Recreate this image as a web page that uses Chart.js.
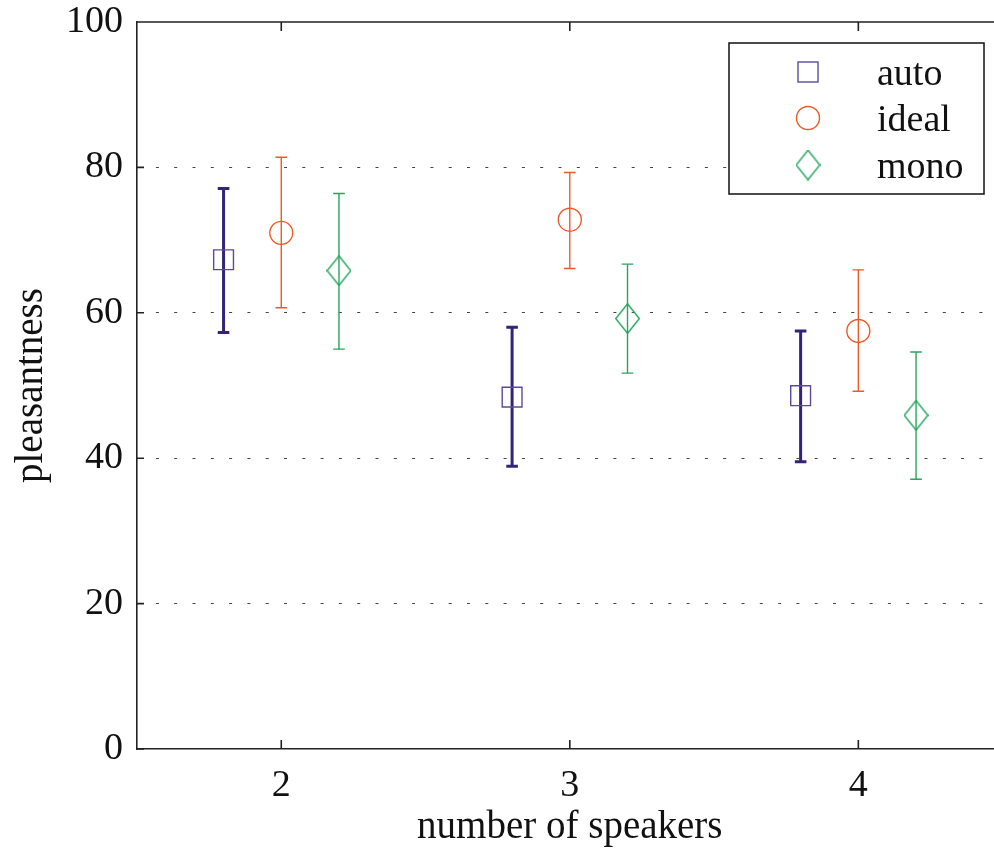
<!DOCTYPE html>
<html>
<head>
<meta charset="utf-8">
<script src="https://cdn.jsdelivr.net/npm/chart.js@4/dist/chart.umd.min.js"></script>
<style>
  html, body { margin: 0; padding: 0; background: #fff; overflow: hidden; }
  #wrap { width: 1018px; height: 851px; }
</style>
</head>
<body>
<div id="wrap"><canvas id="c" width="1018" height="851"></canvas></div>
<script>
// ---- data ----
const seriesNames = ['auto', 'ideal', 'mono'];
const xTicks = [2, 3, 4];
const yTicks = [0, 20, 40, 60, 80, 100];

const xAuto = [1.8, 2.8, 3.8];
const autoMean = [67.3, 48.4, 48.6];
const autoLow = [57.3, 38.9, 39.5];
const autoHigh = [77.1, 58.0, 57.5];

const xIdeal = [2, 3, 4];
const idealMean = [71.0, 72.8, 57.5];
const idealLow = [60.7, 66.1, 49.2];
const idealHigh = [81.4, 79.3, 65.9];

const xMono = [2.2, 3.2, 4.2];
const monoMean = [65.8, 59.2, 45.9];
const monoLow = [55.0, 51.7, 37.1];
const monoHigh = [76.4, 66.7, 54.6];

// ---- styles ----
const FONT = '"Liberation Serif", "Times New Roman", serif';
const C_AUTO_BAR = '#35237a';
const C_AUTO = '#5a4a9b';
const C_IDEAL = '#eb5a26';
const C_MONO = '#27a55d';

function diamondCanvas(w, h, color, lw) {
  const c = document.createElement('canvas');
  c.width = w; c.height = h;
  const g = c.getContext('2d');
  g.strokeStyle = color; g.lineWidth = lw;
  g.beginPath();
  g.moveTo(w / 2, lw / 2);
  g.lineTo(w - lw / 2, h / 2);
  g.lineTo(w / 2, h - lw / 2);
  g.lineTo(lw / 2, h / 2);
  g.closePath();
  g.stroke();
  return c;
}
const diamond = diamondCanvas(25, 31, C_MONO, 1.4);

function pts(xs, ys) { return xs.map((x, i) => ({ x: x, y: ys[i] })); }
function errPts(xs, lo, hi) {
  const out = [];
  xs.forEach((x, i) => { out.push({ x: x, y: lo[i] }, { x: x, y: hi[i] }, { x: x, y: null }); });
  return out;
}

function errSet(xs, lo, hi, color, w) {
  return {
    type: 'line', data: errPts(xs, lo, hi), borderColor: color, borderWidth: w,
    showLine: true, spanGaps: false, pointStyle: 'line', pointRadius: 5.8,
    pointBorderColor: color, pointBorderWidth: w, pointBackgroundColor: color, fill: false
  };
}

const datasets = [
  { label: seriesNames[0], data: pts(xAuto, autoMean), pointStyle: 'rect', pointRadius: 14,
    borderColor: C_AUTO, pointBorderColor: C_AUTO, pointBorderWidth: 1.4, pointBackgroundColor: 'rgba(0,0,0,0)', showLine: false },
  { label: seriesNames[1], data: pts(xIdeal, idealMean), pointStyle: 'circle', pointRadius: 11.5,
    borderColor: C_IDEAL, pointBorderColor: C_IDEAL, pointBorderWidth: 1.4, pointBackgroundColor: 'rgba(0,0,0,0)', showLine: false },
  { label: seriesNames[2], data: pts(xMono, monoMean), pointStyle: diamond, pointRadius: 12,
    borderColor: C_MONO, pointBorderColor: C_MONO, pointBackgroundColor: 'rgba(0,0,0,0)', showLine: false },
  errSet(xAuto, autoLow, autoHigh, C_AUTO_BAR, 3),
  errSet(xIdeal, idealLow, idealHigh, C_IDEAL, 1.4),
  errSet(xMono, monoLow, monoHigh, C_MONO, 1.4)
];

const frame = {
  id: 'frame',
  afterDraw(chart) {
    const ctx = chart.ctx, a = chart.chartArea, xs = chart.scales.x, ys = chart.scales.y;
    ctx.save();
    ctx.strokeStyle = '#222'; ctx.lineWidth = 1.6;
    ctx.beginPath();
    ctx.moveTo(a.left, a.top); ctx.lineTo(a.right + 10, a.top);
    yTicks.forEach(v => { const p = ys.getPixelForValue(v); ctx.moveTo(a.left, p); ctx.lineTo(a.left + 7, p); });
    xTicks.forEach(v => {
      const p = xs.getPixelForValue(v);
      ctx.moveTo(p, a.bottom); ctx.lineTo(p, a.bottom - 9);
      ctx.moveTo(p, a.top); ctx.lineTo(p, a.top + 9);
    });
    ctx.stroke();

    // legend box
    const L = 729, T = 43, W = 255, H = 151;
    ctx.fillStyle = '#fff'; ctx.fillRect(L, T, W, H);
    ctx.strokeStyle = '#111'; ctx.lineWidth = 1.5; ctx.strokeRect(L, T, W, H);
    const mx = 808, rows = [72, 118, 165], base = [85, 131, 178];
    ctx.lineWidth = 1.4;
    ctx.strokeStyle = C_AUTO; ctx.strokeRect(mx - 10, rows[0] - 10, 20, 20);
    ctx.strokeStyle = C_IDEAL; ctx.beginPath(); ctx.arc(mx, rows[1], 11.5, 0, Math.PI * 2); ctx.stroke();
    ctx.drawImage(diamond, mx - diamond.width / 2, rows[2] - diamond.height / 2);
    ctx.fillStyle = '#111'; ctx.font = '38px ' + FONT; ctx.textBaseline = 'alphabetic'; ctx.textAlign = 'left';
    seriesNames.forEach((n, i) => ctx.fillText(n, 877, base[i]));
    ctx.restore();
  }
};

new Chart(document.getElementById('c'), {
  type: 'scatter',
  data: { datasets: datasets },
  options: {
    responsive: false, animation: false, devicePixelRatio: 1,
    layout: { padding: { top: 22, right: 7, left: 0, bottom: 0 } },
    plugins: { legend: { display: false }, tooltip: { enabled: false } },
    scales: {
      x: {
        type: 'linear', min: 1.5, max: 4.5,
        afterBuildTicks: s => { s.ticks = xTicks.map(v => ({ value: v })); },
        afterFit: s => { s.height = 102; s.paddingLeft = 0; s.paddingRight = 0; },
        grid: { display: false, drawTicks: false },
        border: { display: true, color: '#222', width: 1.6 },
        ticks: { color: '#111', font: { family: FONT, size: 38 }, padding: 14, maxRotation: 0, callback: v => String(v) },
        title: { display: true, text: 'number of speakers', color: '#111', font: { family: FONT, size: 39 }, padding: { top: 0, bottom: 0 } }
      },
      y: {
        type: 'linear', min: 0, max: 100,
        afterBuildTicks: s => { s.ticks = yTicks.map(v => ({ value: v })); },
        afterFit: s => { s.width = 137; s.paddingTop = 0; s.paddingBottom = 0; },
        grid: { display: true, drawTicks: false, lineWidth: 1, drawOnChartArea: true,
                color: c => (c.tick && (c.tick.value === 0 || c.tick.value === 100)) ? 'rgba(0,0,0,0)' : '#444' },
        border: { display: true, color: '#222', width: 1.6, dash: [3, 15.3], dashOffset: 0 },
        ticks: { color: '#111', font: { family: FONT, size: 38 }, padding: 14, callback: v => String(v) },
        title: { display: true, text: 'pleasantness', color: '#111', font: { family: FONT, size: 39 }, padding: { top: 8, bottom: 0 } }
      }
    }
  },
  plugins: [frame]
});
</script>
</body>
</html>
